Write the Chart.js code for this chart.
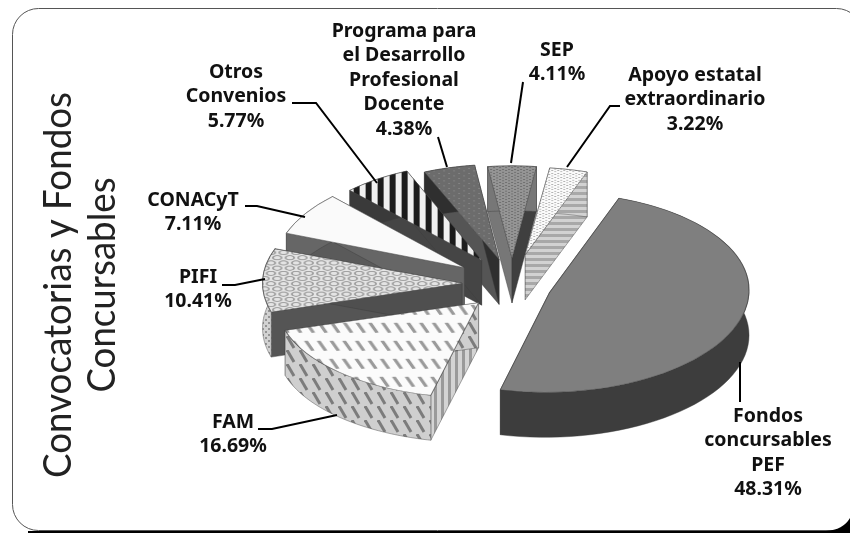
<!DOCTYPE html>
<html><head><meta charset="utf-8">
<style>html,body{margin:0;padding:0;background:#fff}#w{width:850px;height:533px}canvas{display:block}</style>
<script src="https://cdn.jsdelivr.net/npm/chart.js@4"></script></head>
<body><div id="w"><canvas id="c" width="850" height="533"></canvas></div>
<script>
const categories = ['Fondos concursables PEF','FAM','PIFI','CONACyT','Otros Convenios','Programa para el Desarrollo Profesional Docente','SEP','Apoyo estatal extraordinario'];
const shares = [48.31,16.69,10.41,7.11,5.77,4.38,4.11,3.22];
const titleLines = ['Convocatorias y Fondos','Concursables'];
const labelLines = [['Fondos','concursables','PEF'],['FAM'],['PIFI'],['CONACyT'],['Otros','Convenios'],['Programa para','el Desarrollo','Profesional','Docente'],['SEP'],['Apoyo estatal','extraordinario']];

// layout (not data)
const labelAnchors = [[768,416],[233,422],[198,277],[193,200],[236,72],[404,31],[557,50],[695,75]];
const leaders = [[[740,362],[740,402]],[[258,429],[272,429],[337,415]],[[222,285],[235,285],[265,279]],[[245,206],[257,206],[305,217]],[[292,103],[316,103],[377,183]],[[438,137],[447,167]],[[523,82],[511,163]],[[620,106],[610,106],[567,167]]];
const SQUASH = 0.52, DEPTH = 45;
const explode = [39,49,50,57,55,49,50,58];
const nudgeY  = [3,0,0,0,0,0,0,0];
const scaleY  = [.525,.5,.52,.52,.51,.5,.485,.46];
const scaleX  = [1.05,1.06,1.05,1,1,1,1,1];
const shear   = [.047,.03,0,0,0,0,0,0];

function tile(w,h,draw){const t=document.createElement('canvas');t.width=w;t.height=h;draw(t.getContext('2d'));return t;}
function pat(ctx,w,h,draw){return ctx.createPattern(tile(w,h,draw),'repeat');}
const canvas=document.getElementById('c');const g=canvas.getContext('2d');
function dots(bg,fg,s,r){return pat(g,s,s,c=>{c.fillStyle=bg;c.fillRect(0,0,s,s);c.fillStyle=fg;c.fillRect(1,1,r,r);c.fillRect(1+s/2,1+s/2,r,r);});}
const tops=[
 '#7f7f7f',
 pat(g,12,36,c=>{c.fillStyle='#fbfbfb';c.fillRect(0,0,12,36);c.strokeStyle='#9a9a9a';c.lineWidth=3.5;c.beginPath();c.moveTo(2,0);c.lineTo(9,20);c.stroke();}),
 pat(g,12,20,c=>{c.fillStyle='#e4e4e4';c.fillRect(0,0,12,20);c.strokeStyle='#a2a2a2';c.lineWidth=2;c.beginPath();c.arc(6,5,4,0,7);c.stroke();c.beginPath();c.arc(0,15,4,0,7);c.stroke();c.beginPath();c.arc(12,15,4,0,7);c.stroke();}),
 '#fafafa',
 pat(g,12,4,c=>{c.fillStyle='#f0f0f0';c.fillRect(0,0,12,4);c.fillStyle='#1c1c1c';c.fillRect(0,0,6,4);}),
 dots('#6c6c6c','#828282',10,2),
 dots('#959595','#707070',6,2),
 dots('#fbfbfb','#b4b4b4',6,2)
];
const walls=[
 '#3d3d3d',
 pat(g,13,14,c=>{c.fillStyle='#cfcfcf';c.fillRect(0,0,13,14);c.strokeStyle='#7c7c7c';c.lineWidth=3;c.beginPath();c.moveTo(1,0);c.lineTo(8,12);c.stroke();}),
 pat(g,6,6,c=>{c.fillStyle='#d2d2d2';c.fillRect(0,0,6,6);c.fillStyle='#949494';c.fillRect(1,1,2,2);c.fillRect(4,4,2,2);}),
 '#666666','#3a3a3a','#2f2f2f','#777777',
 pat(g,6,6,c=>{c.fillStyle='#d2d2d2';c.fillRect(0,0,6,6);c.fillStyle='#a8a8a8';c.fillRect(0,0,6,3);})
];
const faceStart=['#3d3d3d',pat(g,7,7,c=>{c.fillStyle='#d4d4d4';c.fillRect(0,0,7,7);c.fillStyle='#9a9a9a';c.fillRect(0,0,3,7);}),'#555555','#5a5a5a','#454545','#555555','#777777',walls[7]];
const faceEnd=['#3d3d3d',walls[1],'#4f4f4f','#666666','#454545','#2f2f2f','#3f3f3f',walls[7]];

class Pie3D extends Chart.PieController {
  draw(){
    const c=this.chart.ctx,arcs=this._cachedMeta.data;
    const {x:cx,y:cy}=arcs[0];
    const mid=A=>(A.startAngle+A.endAngle)/2;
    const apex=(A,i)=>[cx+Math.cos(mid(A))*explode[i],cy+Math.sin(mid(A))*explode[i]*SQUASH+nudgeY[i]];
    const order=arcs.map((_,i)=>i).sort((a,b)=>Math.sin(mid(arcs[a]))-Math.sin(mid(arcs[b])));
    order.forEach(i=>{
      const A=arcs[i],[ax,ay]=apex(A,i),r=A.outerRadius,k=scaleY[i],kx=scaleX[i],s=shear[i];
      const P=a=>[ax+Math.cos(a)*r*kx-s*k*r*Math.sin(a),ay+Math.sin(a)*r*k];
      c.save();
      c.strokeStyle='rgba(60,60,60,.6)';c.lineWidth=.7;
      const quad=(p,fill)=>{c.fillStyle=fill;c.beginPath();c.moveTo(ax,ay);c.lineTo(p[0],p[1]);c.lineTo(p[0],p[1]+DEPTH);c.lineTo(ax,ay+DEPTH);c.closePath();c.fill();c.stroke();};
      quad(P(A.startAngle),faceStart[i]);quad(P(A.endAngle),faceEnd[i]);
      c.fillStyle=walls[i];c.beginPath();
      const N=60,at=n=>P(A.startAngle+(A.endAngle-A.startAngle)*n/N);
      for(let n=0;n<=N;n++){const p=at(n);n?c.lineTo(p[0],p[1]):c.moveTo(p[0],p[1]);}
      for(let n=N;n>=0;n--){const p=at(n);c.lineTo(p[0],p[1]+DEPTH);}
      c.closePath();c.fill();c.stroke();
      c.restore();
    });
    order.forEach(i=>{
      const A=arcs[i],[ax,ay]=apex(A,i),k=scaleY[i];
      c.save();c.translate(ax,ay);c.transform(scaleX[i],0,-shear[i]*k,k,0,0);c.translate(-cx,-cy);
      A.draw(c,this.chart.chartArea);
      c.restore();
    });
  }
}
Pie3D.id='pie3d';
Pie3D.defaults=Chart.PieController.defaults;
Pie3D.overrides=Chart.PieController.overrides;
Chart.register(Pie3D);

const frame={id:'frame',
 beforeDraw(chart){const c=chart.ctx;c.save();
  c.strokeStyle='#555';c.lineWidth=1;c.beginPath();c.roundRect(12.5,8.5,850,522,26);c.stroke();
  c.fillStyle='#000';c.beginPath();c.moveTo(28,533);c.lineTo(850,533);c.lineTo(850,518);c.quadraticCurveTo(843,530,826,531);c.lineTo(28,531);c.closePath();c.fill();
  c.restore();},
 afterDatasetsDraw(chart){
  const c=chart.ctx;c.save();
  c.strokeStyle='#000';c.lineWidth=2;
  leaders.forEach(l=>{c.beginPath();l.forEach((p,n)=>n?c.lineTo(p[0],p[1]):c.moveTo(p[0],p[1]));c.stroke();});
  c.fillStyle='#111';c.textAlign='center';c.textBaseline='middle';
  c.font='bold 19.5px "Noto Sans"';
  labelLines.forEach((ls,i)=>{const a=labelAnchors[i];const t=ls.concat(shares[i].toFixed(2)+'%');
   t.forEach((s,n)=>c.fillText(s,a[0],a[1]+n*24.5));});
  c.font='38.5px Lato';c.fillStyle='#222';c.textBaseline='alphabetic';
  const bx=[71,115],fit=[386,215];
  titleLines.forEach((s,n)=>{c.save();c.translate(bx[n],285);c.rotate(-Math.PI/2);c.fillText(s,0,0,fit[n]);c.restore();});
  c.restore();
 }
};

new Chart(canvas,{type:'pie3d',
 data:{labels:categories,datasets:[{data:shares,backgroundColor:tops,borderColor:'rgba(70,70,70,.7)',borderWidth:1,radius:190}]},
 options:{responsive:false,animation:false,rotation:19,
  layout:{padding:{left:174,right:0,top:35,bottom:0}},
  plugins:{legend:{display:false},tooltip:{enabled:false},title:{display:false}}},
 plugins:[frame]});
</script></body></html>
